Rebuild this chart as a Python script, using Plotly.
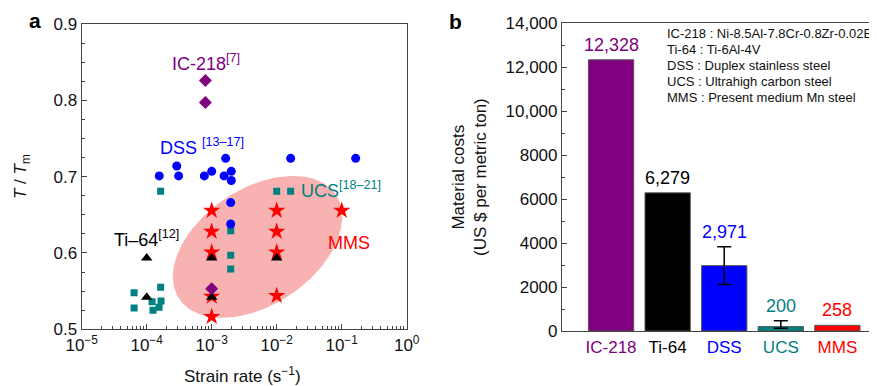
import numpy as np
import plotly.graph_objects as go

# ---------------- data: panel a ----------------
ic218_rate = [8e-4, 8e-4, 1e-3]
ic218_t = [0.826, 0.797, 0.553]

dss_rate = [1.64e-3, 0.0164, 0.164, 2.9e-4, 1.56e-4, 3.1e-4, 7.7e-4, 1.0e-3, 1.55e-3, 2.0e-3, 2.0e-3, 1.96e-3, 1.96e-3]
dss_t = [0.724, 0.724, 0.724, 0.714, 0.701, 0.701, 0.701, 0.707, 0.701, 0.707, 0.695, 0.666, 0.638]

ucs_rate = [1.64e-4, 0.01, 0.0164, 1.96e-3, 1.96e-3, 1.96e-3, 1.64e-4, 6.4e-5, 6.4e-5, 1.21e-4, 1.66e-4, 1.25e-4, 1.55e-4]
ucs_t = [0.681, 0.681, 0.681, 0.629, 0.597, 0.579, 0.555, 0.548, 0.528, 0.536, 0.537, 0.525, 0.529]

ti64_rate = [1e-4, 1e-4, 1e-3, 1e-3, 1e-2]
ti64_t = [0.5935, 0.542, 0.5935, 0.542, 0.5935]

mms_rate = [1e-3, 1e-3, 1e-3, 1e-3, 1e-3, 1e-2, 1e-2, 1e-2, 1e-2, 1e-1]
mms_t = [0.6555, 0.628, 0.601, 0.543, 0.5165, 0.6555, 0.628, 0.601, 0.544, 0.6555]

x_tickvals = [1e-5, 1e-4, 1e-3, 1e-2, 1e-1, 1e0]
x_ticktext = ["10<sup>−5</sup>", "10<sup>−4</sup>", "10<sup>−3</sup>", "10<sup>−2</sup>", "10<sup>−1</sup>", "10<sup>0</sup>"]
y_tickvals = [0.5, 0.6, 0.7, 0.8, 0.9]
y_ticktext = ["0.5", "0.6", "0.7", "0.8", "0.9"]

# ---------------- data: panel b ----------------
materials = ["IC-218", "Ti-64", "DSS", "UCS", "MMS"]
costs = [12328, 6279, 2971, 200, 258]
cost_labels = ["12,328", "6,279", "2,971", "200", "258"]
err_plus = [0, 0, 860, 270, 0]
err_minus = [0, 0, 860, 80, 0]
y2_tickvals = [0, 2000, 4000, 6000, 8000, 10000, 12000, 14000]
y2_ticktext = ["0", "2000", "4000", "6000", "8000", "10,000", "12,000", "14,000"]
legend_lines = [
    "IC-218 : Ni-8.5Al-7.8Cr-0.8Zr-0.02B",
    "Ti-64 : Ti-6Al-4V",
    "DSS : Duplex stainless steel",
    "UCS : Ultrahigh carbon steel",
    "MMS : Present medium Mn steel",
]

# ---------------- styles ----------------
PURPLE = "#800080"
BLUE = "#0000FF"
TEAL = "#008080"
RED = "#FF0000"
BLACK = "#000000"
bar_colors = [PURPLE, BLACK, BLUE, TEAL, RED]
FONT = "Liberation Sans, Arial, Helvetica, sans-serif"
AX = "#444444"
OFF = 8  # page body margin
W, H = 877 - OFF, 386 - OFF


def pxx(p):
    return (p - OFF) / W


def pxy(p):
    return 1 - (p - OFF) / H


fig = go.Figure()

# shaded ellipse (drawn in axis space: px per decade / per unit T/Tm)
PX_DEC, PX_UNIT = 65.0, 762.5
cx, cy = -2.295, 0.608
a_px, b_px, th = 94.0, 58.0, np.deg2rad(33.5)
tt = np.linspace(0, 2 * np.pi, 240)
dx = a_px * np.cos(tt) * np.cos(th) - b_px * np.sin(tt) * np.sin(th)
dy = a_px * np.cos(tt) * np.sin(th) + b_px * np.sin(tt) * np.cos(th)
fig.add_trace(go.Scatter(
    x=10 ** (cx + dx / PX_DEC), y=cy + dy / PX_UNIT, mode="lines",
    fill="toself", fillcolor="rgb(249,178,178)", line=dict(width=0),
    hoverinfo="skip", showlegend=False, xaxis="x", yaxis="y"))

fig.add_trace(go.Scatter(x=ucs_rate, y=ucs_t, mode="markers",
                         marker=dict(symbol="square", size=7, color=TEAL),
                         showlegend=False, xaxis="x", yaxis="y"))
fig.add_trace(go.Scatter(x=dss_rate, y=dss_t, mode="markers",
                         marker=dict(symbol="circle", size=9, color=BLUE),
                         showlegend=False, xaxis="x", yaxis="y"))
fig.add_trace(go.Scatter(x=mms_rate, y=mms_t, mode="markers",
                         marker=dict(symbol="star", size=13, color=RED),
                         showlegend=False, xaxis="x", yaxis="y"))
fig.add_trace(go.Scatter(x=ti64_rate, y=ti64_t, mode="markers",
                         marker=dict(symbol="triangle-up", size=10, color=BLACK),
                         showlegend=False, xaxis="x", yaxis="y"))
fig.add_trace(go.Scatter(x=ic218_rate, y=ic218_t, mode="markers",
                         marker=dict(symbol="diamond", size=10, color=PURPLE),
                         showlegend=False, xaxis="x", yaxis="y"))

# bars
cat_x = list(range(len(materials)))
fig.add_trace(go.Bar(
    x=cat_x, y=costs, width=0.8,
    marker=dict(color=bar_colors, line=dict(color="#555555", width=1)),
    showlegend=False, xaxis="x2", yaxis="y2"))

# error bars only where an error exists
idx = [i for i in cat_x if err_plus[i] > 0 or err_minus[i] > 0]
fig.add_trace(go.Scatter(
    x=[cat_x[i] for i in idx], y=[costs[i] for i in idx], mode="markers",
    marker=dict(size=1, color="rgba(0,0,0,0)"),
    error_y=dict(type="data", symmetric=False,
                 array=[err_plus[i] for i in idx], arrayminus=[err_minus[i] for i in idx],
                 color=BLACK, thickness=1.5, width=7),
    hoverinfo="skip", showlegend=False, xaxis="x2", yaxis="y2"))

ann = []
# panel a labels
ann.append(dict(x=pxx(170), y=pxy(63), xref="paper", yref="paper",
                text="IC-218<sup>[7]</sup>", showarrow=False, font=dict(size=18, color=PURPLE),
                xanchor="left", yanchor="middle"))
ann.append(dict(x=pxx(158), y=pxy(147), xref="paper", yref="paper",
                text="DSS <sup>[13–17]</sup>", showarrow=False, font=dict(size=18, color=BLUE),
                xanchor="left", yanchor="middle"))
ann.append(dict(x=pxx(299), y=pxy(190), xref="paper", yref="paper",
                text="UCS<sup>[18–21]</sup>", showarrow=False, font=dict(size=18, color=TEAL),
                xanchor="left", yanchor="middle"))
ann.append(dict(x=pxx(112), y=pxy(238), xref="paper", yref="paper",
                text="Ti–64<sup>[12]</sup>", showarrow=False, font=dict(size=18, color=BLACK),
                xanchor="left", yanchor="middle"))
ann.append(dict(x=pxx(326), y=pxy(243), xref="paper", yref="paper",
                text="MMS", showarrow=False, font=dict(size=18, color=RED),
                xanchor="left", yanchor="middle"))
# titles
ann.append(dict(x=pxx(22), y=pxy(177), xref="paper", yref="paper",
                text="<i>T</i> / <i>T</i><sub>m</sub>", textangle=-90, showarrow=False,
                font=dict(size=17, color="#111111"), xanchor="center", yanchor="middle"))
ann.append(dict(x=pxx(243), y=pxy(375), xref="paper", yref="paper",
                text="Strain rate (s<sup>−1</sup>)", showarrow=False,
                font=dict(size=17, color="#111111"), xanchor="center", yanchor="middle"))
ann.append(dict(x=pxx(469), y=pxy(177), xref="paper", yref="paper",
                text="Material costs<br>(US $ per metric ton)", textangle=-90, showarrow=False,
                font=dict(size=17, color="#111111"), xanchor="center", yanchor="middle"))
ann.append(dict(x=pxx(35), y=pxy(20), xref="paper", yref="paper", text="<b>a</b>",
                showarrow=False, font=dict(size=21, color=BLACK), xanchor="center", yanchor="middle"))
ann.append(dict(x=pxx(455.5), y=pxy(22), xref="paper", yref="paper", text="<b>b</b>",
                showarrow=False, font=dict(size=21, color=BLACK), xanchor="center", yanchor="middle"))
# bar value labels
for i, (v, lab, ep) in enumerate(zip(costs, cost_labels, err_plus)):
    ann.append(dict(x=i, y=v + ep, xref="x2", yref="y2", text=lab, showarrow=False,
                    font=dict(size=18, color=bar_colors[i]), xanchor="center",
                    yanchor="middle", yshift=15))
# legend text
for k, line in enumerate(legend_lines):
    ann.append(dict(x=pxx(665), y=pxy(33 + 16 * k), xref="paper", yref="paper",
                    text=line, showarrow=False, font=dict(size=13, color="#111111"),
                    xanchor="left", yanchor="middle"))

cat_ticktext = [f'<span style="color:{c}">{m}</span>' for m, c in zip(materials, bar_colors)]

fig.update_layout(
    width=W, height=H, margin=dict(l=0, r=0, t=0, b=0),
    paper_bgcolor="white", plot_bgcolor="white",
    font=dict(family=FONT, size=17, color="#111111"),
    showlegend=False,
    annotations=ann,
    xaxis=dict(type="log", domain=[pxx(81.7), pxx(406.7)], range=[-5, 0],
               tickvals=x_tickvals, ticktext=x_ticktext, ticks="inside", ticklen=5,
               tickcolor=AX, showline=True, linecolor=AX, linewidth=1.2, mirror=True,
               showgrid=False, zeroline=False, automargin=False,
               minor=dict(ticks="inside", ticklen=3, tickcolor=AX, dtick="D1", showgrid=False),
               tickfont=dict(size=17, color="#111111"), anchor="y"),
    yaxis=dict(domain=[pxy(329.3), pxy(24)], range=[0.5, 0.9],
               tickvals=y_tickvals, ticktext=y_ticktext, ticks="inside", ticklen=5,
               tickcolor=AX, showline=True, linecolor=AX, linewidth=1.2, mirror=True,
               showgrid=False, zeroline=False, automargin=False,
               minor=dict(ticks="inside", ticklen=3, tickcolor=AX, dtick=0.025, showgrid=False),
               tickfont=dict(size=17, color="#111111"), anchor="x"),
    xaxis2=dict(domain=[pxx(562), 1.0], range=[-0.867, 4.7],
                tickvals=cat_x, ticktext=cat_ticktext, ticks="",
                showline=True, linecolor=AX, linewidth=1.2, mirror=True,
                showgrid=False, zeroline=False, automargin=False,
                tickfont=dict(size=17), anchor="y2"),
    yaxis2=dict(domain=[pxy(331), pxy(23)], range=[0, 14000],
                tickvals=y2_tickvals, ticktext=y2_ticktext, ticks="inside", ticklen=5,
                tickcolor=AX, showline=True, linecolor=AX, linewidth=1.2,
                showgrid=False, zeroline=False, automargin=False,
                minor=dict(ticks="inside", ticklen=3, tickcolor=AX, dtick=1000, showgrid=False),
                tickfont=dict(size=17, color="#111111"), anchor="x2"),
)

fig.write_html("out.html")
